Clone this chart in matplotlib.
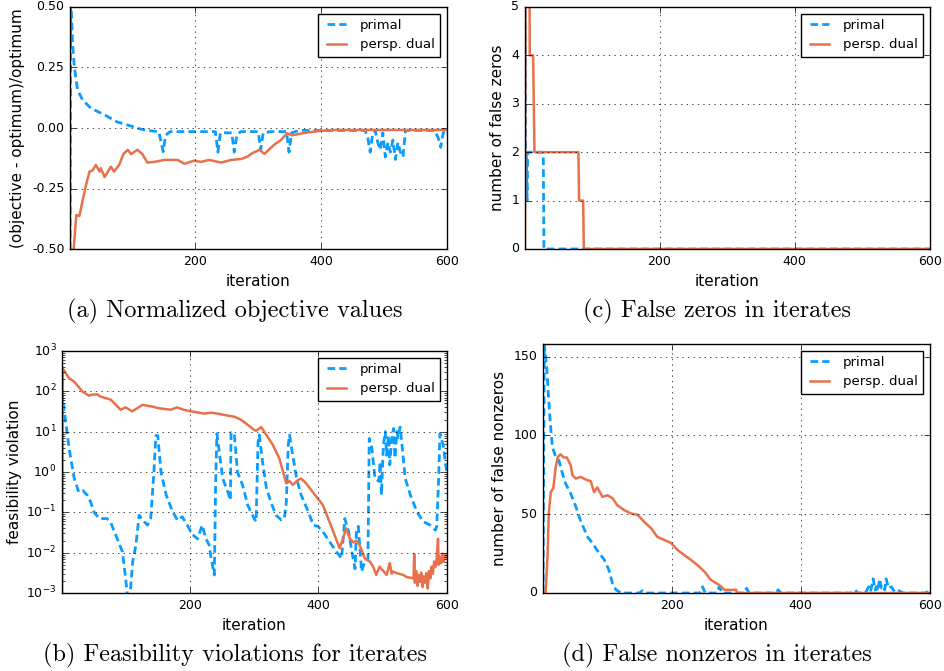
import matplotlib
matplotlib.use("Agg")
import matplotlib.pyplot as plt
from matplotlib.ticker import FormatStrFormatter, FixedLocator

plt.style.use("classic")
plt.rcParams["axes.unicode_minus"] = False
plt.rcParams["mathtext.fontset"] = "cm"
plt.rcParams["figure.facecolor"] = "white"
plt.rcParams["savefig.facecolor"] = "white"

BLUE = "#0a9dff"
ORANGE = "#e8704b"

# (a) normalized objective values, (iteration, value) pairs
obj_primal = [(1, -0.6), (2, 0.6), (3, 0.5), (5, 0.35), (8, 0.25), (13, 0.157), (21, 0.116),
              (34, 0.082), (56, 0.054), (76, 0.025), (98, 0.008), (114, -0.005), (130, -0.012),
              (142, -0.015), (146, -0.06), (149, -0.098), (153, -0.03), (160, -0.015), (232, -0.015),
              (236, -0.1), (240, -0.02), (258, -0.02), (262, -0.1), (266, -0.03), (272, -0.015),
              (300, -0.015), (304, -0.09), (308, -0.02), (320, -0.015), (345, -0.015), (349, -0.1),
              (353, -0.02), (365, -0.01), (470, -0.01), (474, -0.04), (478, -0.1), (482, -0.02),
              (486, -0.01), (490, -0.06), (494, -0.09), (498, -0.02), (502, -0.12), (506, -0.06),
              (510, -0.1), (514, -0.05), (518, -0.13), (522, -0.06), (526, -0.1), (530, -0.12),
              (534, -0.01), (580, -0.01), (586, -0.04), (590, -0.08), (594, -0.02), (600, -0.01)]
obj_dual = [(4, -0.6), (11, -0.36), (16, -0.363), (21, -0.3), (27, -0.23), (32, -0.18), (37, -0.175),
            (42, -0.153), (48, -0.18), (50, -0.166), (56, -0.203), (66, -0.16), (71, -0.18),
            (79, -0.153), (86, -0.107), (93, -0.09), (98, -0.108), (108, -0.09), (116, -0.108),
            (124, -0.143), (135, -0.14), (151, -0.132), (172, -0.132), (183, -0.148), (198, -0.135),
            (209, -0.14), (222, -0.132), (241, -0.143), (257, -0.132), (273, -0.128), (283, -0.118),
            (290, -0.105), (302, -0.09), (310, -0.107), (325, -0.07), (336, -0.05), (346, -0.022),
            (354, -0.03), (370, -0.022), (397, -0.012), (423, -0.008), (600, -0.008)]

# (c) false zeros
zeros_primal = [(1, 6), (2, 2), (3, 2), (4, 1), (5, 2), (28, 2), (29, 0), (600, 0)]
zeros_dual = [(1, 0), (2, 9), (7, 9), (8, 4), (13, 4), (15, 2), (80, 2), (81, 1), (87, 1), (88, 0), (600, 0)]

# (b) feasibility violations
feas_primal = [(1, 100), (4, 38), (12, 3.9), (20, 0.7), (27, 0.32), (33, 0.35), (40, 0.27), (45, 0.19),
               (51, 0.1), (59, 0.07), (71, 0.07), (77, 0.055), (87, 0.022), (95, 0.0105), (100, 0.0023),
               (103, 0.0008), (106, 0.0006), (111, 0.006), (116, 0.0155), (121, 0.085), (129, 0.059),
               (134, 0.048), (139, 0.07), (144, 1.0), (147, 8), (150, 8), (155, 1.0), (163, 0.27),
               (173, 0.105), (181, 0.063), (188, 0.078), (196, 0.048), (204, 0.028), (212, 0.022),
               (219, 0.048), (225, 0.022), (230, 0.0155), (233, 0.0072), (238, 0.0028), (240, 0.5),
               (242, 9), (251, 0.69), (259, 0.32), (263, 0.2), (264, 9.5), (269, 9), (274, 1.0),
               (282, 0.47), (290, 0.15), (300, 0.07), (303, 0.059), (306, 5.6), (308, 8.3), (313, 1.8),
               (319, 0.4), (326, 0.18), (334, 0.085), (342, 0.065), (347, 0.07), (350, 0.18), (353, 4.7),
               (355, 8.3), (360, 2.6), (366, 0.69), (373, 0.27), (384, 0.105), (392, 0.048), (399, 0.045),
               (407, 0.033), (417, 0.019), (428, 0.0105), (436, 0.0072), (441, 0.07), (447, 0.033),
               (452, 0.0105), (457, 0.004), (459, 0.033), (462, 0.045), (465, 0.0105), (467, 0.0034),
               (472, 0.006), (477, 0.0072), (479, 6.8), (483, 4.0), (488, 0.69), (494, 0.59), (496, 1.8),
               (498, 0.27), (501, 4.7), (504, 10), (506, 2.6), (509, 8), (511, 1.5), (514, 7), (517, 12),
               (519, 2.2), (522, 10), (524, 7), (527, 13), (530, 4.7), (535, 0.69), (543, 0.27),
               (553, 0.105), (563, 0.059), (574, 0.048), (582, 0.036), (584, 0.045), (587, 0.69),
               (589, 9), (594, 4.7), (600, 0.85)]
feas_dual = [(1, 0.0001), (2, 370), (12, 210), (20, 174), (33, 98), (43, 78), (48, 83), (56, 84), (61, 74),
             (69, 68), (77, 62), (85, 46), (92, 35), (100, 40), (110, 32), (118, 38), (126, 46), (141, 42),
             (152, 38), (170, 35), (180, 40), (190, 35), (201, 32), (212, 30), (222, 28), (233, 29.5),
             (243, 28), (253, 26), (269, 23.5), (279, 20), (290, 14.8), (300, 11), (303, 10.5), (311, 13),
             (319, 8.3), (329, 4.7), (339, 2.2), (345, 1.0), (350, 0.52), (355, 0.6), (360, 0.48),
             (368, 0.63), (373, 0.69), (381, 0.52), (391, 0.32), (399, 0.22), (407, 0.15), (417, 0.059),
             (425, 0.0275), (433, 0.0129), (438, 0.022), (443, 0.04), (449, 0.022), (454, 0.018),
             (459, 0.02), (464, 0.0155), (472, 0.0072), (480, 0.006), (485, 0.0045), (490, 0.0028),
             (495, 0.0045), (501, 0.0035), (506, 0.0028), (511, 0.0055), (514, 0.003), (516, 0.0034),
             (522, 0.0031), (532, 0.0028), (537, 0.0025), (548, 0.0023), (549, 0.0093), (550, 0.0018),
             (552, 0.0035), (554, 0.0015), (556, 0.0028), (558, 0.0019), (560, 0.0032), (562, 0.0014),
             (564, 0.0026), (566, 0.0018), (568, 0.0031), (570, 0.0013), (572, 0.0035), (574, 0.0023),
             (576, 0.0045), (578, 0.003), (580, 0.006), (582, 0.0045), (584, 0.007), (586, 0.022),
             (587, 0.005), (589, 0.008), (591, 0.0055), (593, 0.0095), (595, 0.006), (597, 0.009),
             (600, 0.0075)]

# (d) false nonzeros
nonzeros_primal = [(1, 0), (3, 158), (6.7, 143), (9.3, 126), (12, 109.5), (15.5, 92.6), (20.7, 86.3),
                   (25.8, 84), (31, 75.8), (36, 69.4), (44, 63), (52, 54.6), (59, 46), (70, 35.6),
                   (78, 31.4), (85, 27), (96, 21), (103, 14.6), (108.5, 6.1), (114, 2), (122, 0), (150, 0),
                   (155, 1.5), (160, 0), (244, 0), (248, 4), (252, 0), (270, 0), (274, 4), (278, 0),
                   (312, 0), (316, 3), (320, 0), (361, 0), (365, 2), (369, 0), (480, 0), (484, 2), (488, 0),
                   (500, 0), (505, 4), (508, 1), (512, 9), (515, 2), (517, 4), (519, 1), (522, 9), (525, 3),
                   (528, 4), (530, 2), (532, 9), (536, 3), (540, 4), (545, 1), (550, 2), (558, 0), (594, 0),
                   (597.5, 2), (600, 3)]
nonzeros_dual = [(1, 0), (5, 0), (8, 23), (10, 50.5), (13, 64), (17, 66.6), (20.7, 80), (24, 86.3),
                 (28, 88), (33, 86), (38, 86), (44, 81), (46.5, 74.7), (52, 72.6), (59, 73.7), (67, 72),
                 (75, 70.9), (80, 64), (85, 67), (93, 61), (101, 62), (109, 60), (116, 55.7), (127, 52.5),
                 (137, 50.5), (147.6, 49.5), (158, 45), (168.5, 41), (178, 35.6), (189.5, 33.5),
                 (199, 31.8), (210, 27), (220, 24), (230, 21), (240, 17.7), (251, 13.5), (261, 8.2),
                 (274, 5), (282, 2), (300, 2), (301, 0), (600, 0)]

W, H = 945, 671
fig = plt.figure(figsize=(W / 100, H / 100), dpi=100)


def box(l, t, r, b):
    return [l / W, 1 - b / H, (r - l) / W, (b - t) / H]


def draw(ax, primal, dual, ylabel):
    ax.plot([p[0] for p in primal], [p[1] for p in primal], "--", dashes=(5.5, 3),
            color=BLUE, lw=2, label="primal")
    ax.plot([p[0] for p in dual], [p[1] for p in dual], "-", color=ORANGE, lw=1.8, label="persp. dual")
    ax.set_xlim(1, 600)
    ax.xaxis.set_major_locator(FixedLocator([200, 400, 600]))
    ax.grid(True, linestyle=":", color="black")
    ax.tick_params(labelsize=9)
    ax.set_xlabel("iteration", fontsize=11)
    ax.set_ylabel(ylabel, fontsize=11)
    ax.legend(loc="upper right", fontsize=9.5, fancybox=False, framealpha=1)


ax_a = fig.add_axes(box(70, 7, 447, 249))
draw(ax_a, obj_primal, obj_dual, "(objective - optimum)/optimum")
ax_a.set_ylim(-0.5, 0.5)
ax_a.yaxis.set_major_locator(FixedLocator([-0.5, -0.25, 0, 0.25, 0.5]))
ax_a.yaxis.set_major_formatter(FormatStrFormatter("%.2f"))

ax_c = fig.add_axes(box(525, 7, 930, 249))
draw(ax_c, zeros_primal, zeros_dual, "number of false zeros")
ax_c.set_ylim(0, 5)

ax_b = fig.add_axes(box(62, 351, 447, 593))
draw(ax_b, feas_primal, feas_dual, "feasibility violation")
ax_b.set_yscale("log")
ax_b.set_ylim(1e-3, 1e3)
ax_b.yaxis.set_label_coords(-0.104, 0.5)

ax_d = fig.add_axes(box(543, 344, 930, 593))
draw(ax_d, nonzeros_primal, nonzeros_dual, "number of false nonzeros")
ax_d.set_ylim(0, 158)
ax_d.yaxis.set_major_locator(FixedLocator([0, 50, 100, 150]))

cap = dict(family="cmr10", fontsize=17.5, ha="center", va="center")
fig.text(235 / W, 1 - 311 / H, "(a) Normalized objective values", **cap)
fig.text(717 / W, 1 - 311 / H, "(c) False zeros in iterates", **cap)
fig.text(235 / W, 1 - 655 / H, "(b) Feasibility violations for iterates", **cap)
fig.text(717 / W, 1 - 655 / H, "(d) False nonzeros in iterates", **cap)

fig.savefig("out.png", dpi=100)
